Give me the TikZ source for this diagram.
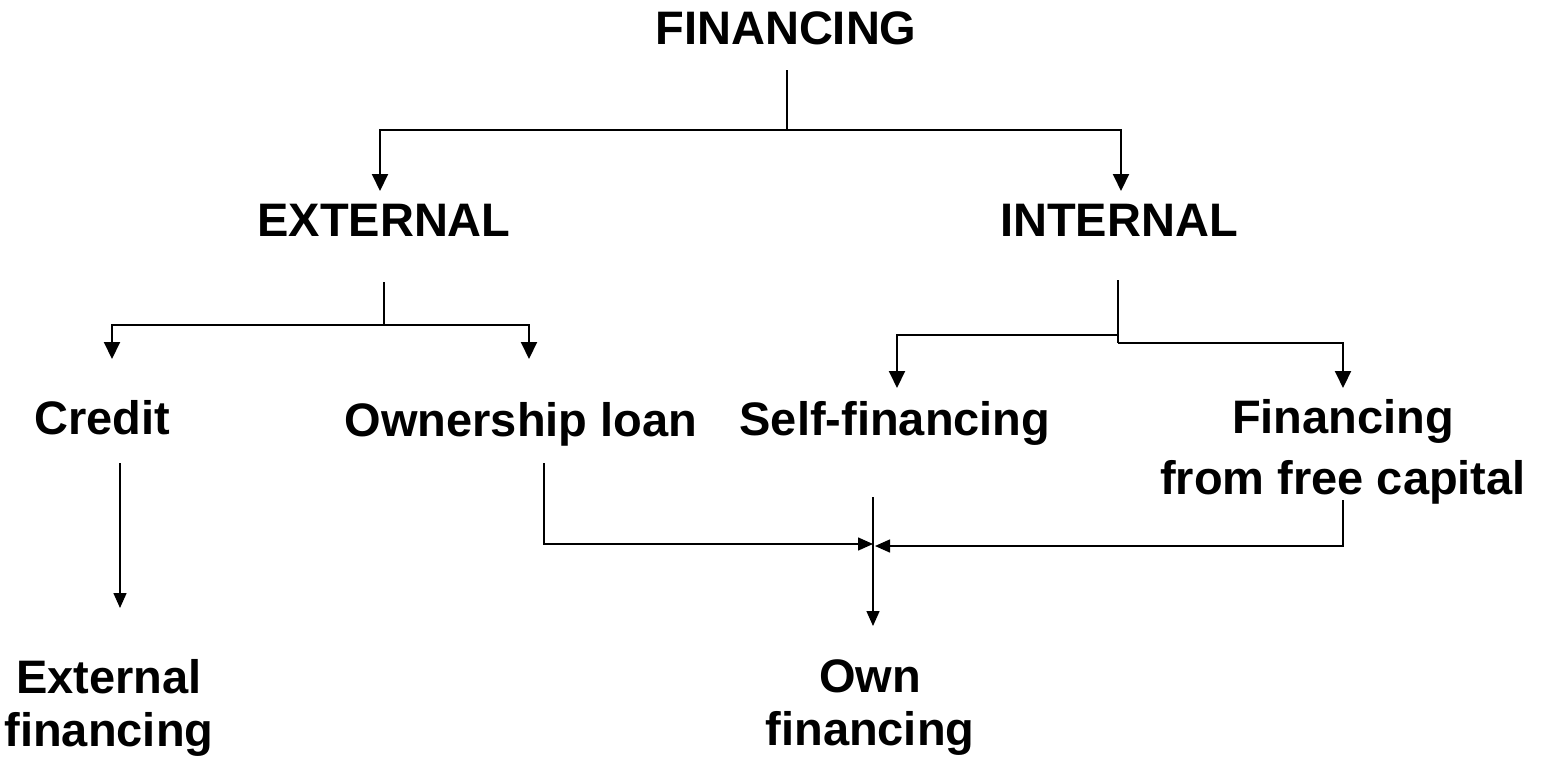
\documentclass[tikz,border=0pt]{standalone}
\usepackage{fontspec}
\setmainfont{Liberation Sans}
\usetikzlibrary{arrows.meta}
\begin{document}
\begin{tikzpicture}[x=1pt,y=-1pt,
  lbl/.style={font=\fontsize{47}{56}\selectfont\bfseries, align=center, inner sep=0pt},
  conn/.style={line width=2pt},
  connthin/.style={line width=1.5pt},
  tip/.style={-{Triangle[width=16pt,length=17pt]}},
  tipsm/.style={-{Triangle[width=13pt,length=15pt]}}]
\useasboundingbox (0,0) rectangle (1547,758);
% labels
\node[lbl] (fin) at (786,28) {FINANCING};
\node[lbl] (ext) at (384,220) {EXTERNAL};
\node[lbl] (int) at (1119,220) {INTERNAL};
\node[lbl] (cred) at (102,418) {Credit};
\node[lbl] (own) at (521,424) {Ownership loan};
\node[lbl] (self) at (895,423) {Self-financing};
\node[lbl,font=\fontsize{47}{61}\selectfont\bfseries] (free) at (1343,452) {Financing\\from free capital};
\node[lbl,font=\fontsize{47}{53}\selectfont\bfseries] (extf) at (109,708) {External\\financing};
\node[lbl,font=\fontsize{47}{53}\selectfont\bfseries] (ownf) at (870,708) {Own\\financing};
% coordinates
\coordinate (finTop) at (787,70);
\coordinate (finJ) at (787,130);
\coordinate (extIn) at (380,191);
\coordinate (intIn) at (1121,191);
\coordinate (extTop) at (384,282);
\coordinate (extJ) at (384,325);
\coordinate (credIn) at (112,359);
\coordinate (ownIn) at (529,359);
\coordinate (intTop) at (1118,280);
\coordinate (intJa) at (1118,335);
\coordinate (intJb) at (1118,343);
\coordinate (selfIn) at (897,388);
\coordinate (freeIn) at (1343,388);
\coordinate (credOut) at (120,463);
\coordinate (credEnd) at (120,608);
\coordinate (ownOut) at (544,463);
\coordinate (freeOut) at (1343,500);
\coordinate (merge) at (874,544);
\coordinate (mergeTop) at (873,497);
\coordinate (ownfIn) at (873,626);
% level 1
\draw[conn] (finTop) -- (finJ);
\draw[conn,tip] (finJ) -| (extIn);
\draw[conn,tip] (finJ) -| (intIn);
% level 2
\draw[conn] (extTop) -- (extJ);
\draw[conn,tip] (extJ) -| (credIn);
\draw[conn,tip] (extJ) -| (ownIn);
\draw[conn] (intTop) -- (intJb);
\draw[conn,tip] (intJa) -| (selfIn);
\draw[conn,tip] (intJb) -| (freeIn);
% level 3
\draw[connthin,tipsm] (credOut) -- (credEnd);
\draw[connthin,tipsm] (ownOut) |- ([xshift=-1pt]merge);
\draw[connthin,tipsm] (freeOut) |- ([xshift=1pt,yshift=-2pt]merge);
\draw[connthin,tipsm] (mergeTop) -- (ownfIn);
\end{tikzpicture}
\end{document}
